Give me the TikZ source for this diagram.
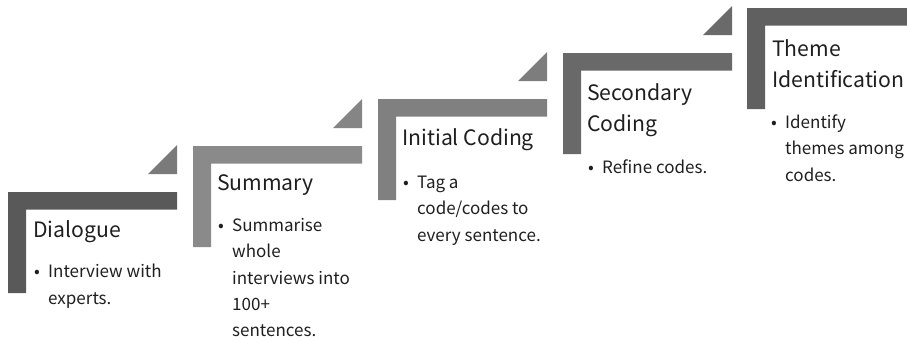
\documentclass[tikz,border=0pt]{standalone}
\usepackage{fontspec}
\setmainfont{Noto Sans CJK JP}
\definecolor{cA}{HTML}{595959}
\definecolor{cB}{HTML}{8A8A8A}
\definecolor{cC}{HTML}{808080}
\definecolor{cD}{HTML}{696969}
\definecolor{cE}{HTML}{606060}
\definecolor{tA}{HTML}{7A7A7A}
\definecolor{tB}{HTML}{858585}
\definecolor{tC}{HTML}{7D7D7D}
\definecolor{tD}{HTML}{6A6A6A}
\newcommand{\stepL}[3]{%
  \fill[#3] (#1,#2) -- ++(169,0) -- ++(0,17.5) -- ++(-151,0) -- ++(0,83.5) -- ++(-18,0) -- cycle;}
\newcommand{\stepTri}[3]{%
  \fill[#3] (#1+169,#2-47) -- ++(0,29) -- ++(-29,0) -- cycle;}
\newcommand{\bul}{\makebox[14pt][l]{•}}
\newcommand{\ind}{\hspace*{14pt}}
\tikzset{
  title/.style={anchor=base west, inner sep=0pt, align=left, text=black!88,
    font=\fontsize{21.2}{31}\selectfont},
  bullet/.style={anchor=base west, inner sep=0pt, align=left, text=black!88,
    font=\fontsize{17}{26.2}\selectfont},
}
\begin{document}
\begin{tikzpicture}[x=1pt,y=-1pt]
\useasboundingbox (0,0) rectangle (907,341);
\begin{scope}
\clip (0,0) rectangle (907,341);
\stepL{8}{192}{cA}
\stepTri{8}{192}{tA}
\stepL{193}{146}{cB}
\stepTri{193}{146}{tB}
\stepL{378}{99}{cC}
\stepTri{378}{99}{tC}
\stepL{563}{53}{cD}
\stepTri{563}{53}{tD}
\stepL{747}{8}{cE}
\end{scope}
% titles (anchor = baseline of last line)
\node[title] (t1) at (33,237) {Dialogue};
\node[title] (t2) at (217,190) {Summary};
\node[title] (t3) at (402,145) {Initial Coding};
\node[title] (t4) at (587,131) {Secondary\\Coding};
\node[title] (t5) at (772,87) {Theme\\Identification};
% bullets
\node[bullet] (b1) at (34,304) {\bul Interview with\\\ind experts.};
\node[bullet] (b2) at (218,336.5) {\bul Summarise\\\ind whole\\\ind interviews into\\\ind 100+\\\ind sentences.};
\node[bullet] (b3) at (403,241) {\bul Tag a\\\ind code/codes to\\\ind every sentence.};
\node[bullet] (b4) at (588,173) {\bul Refine codes.};
\node[bullet] (b5) at (771,181) {\bul Identify\\\ind themes among\\\ind codes.};
\end{tikzpicture}
\end{document}
